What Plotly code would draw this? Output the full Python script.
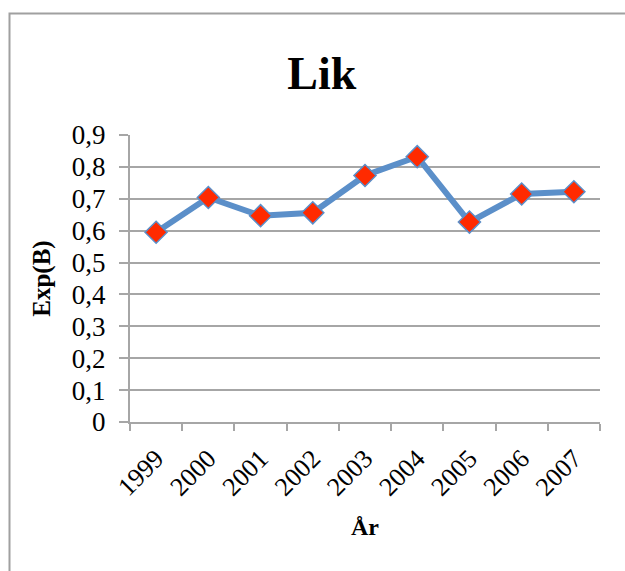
import plotly.graph_objects as go

# Exp(B) estimates per year
years = ["1999", "2000", "2001", "2002", "2003", "2004", "2005", "2006", "2007"]
exp_b = [0.595, 0.704, 0.647, 0.656, 0.773, 0.832, 0.627, 0.715, 0.722]

y_ticks = [0, 0.1, 0.2, 0.3, 0.4, 0.5, 0.6, 0.7, 0.8, 0.9]
y_tick_labels = ["0", "0,1", "0,2", "0,3", "0,4", "0,5", "0,6", "0,7", "0,8", "0,9"]

serif = "Liberation Serif, Times New Roman, serif"
grid_gray = "#a6a6a6"

fig = go.Figure()
fig.add_trace(go.Scatter(
    x=years, y=exp_b,
    mode="lines+markers",
    line=dict(color="#5b8fc9", width=6),
    marker=dict(symbol="diamond", size=17, color="#ff2a00",
                line=dict(color="#5b8fc9", width=1.5)),
    showlegend=False,
))

fig.update_layout(
    width=625, height=571,
    margin=dict(l=130, r=25, t=135, b=149),
    paper_bgcolor="white", plot_bgcolor="white",
    title=dict(text="<b>Lik</b>", x=0.515, xanchor="center", y=0.872, yanchor="middle",
               font=dict(family=serif, size=46, color="black")),
    font=dict(family=serif, color="black"),
    shapes=[dict(type="rect", xref="paper", yref="paper",
                 x0=-130 / 470 + 9.5 / 470, x1=1.2, y0=-0.7, y1=(571 - 13.5 - 149) / 287,
                 line=dict(color="#a0a0a0", width=2), layer="below")],
)

fig.update_xaxes(
    type="category", range=[-0.5, 8.5],
    showline=True, linecolor=grid_gray, linewidth=2,
    ticks="outside", tickson="boundaries", ticklen=7, tickcolor=grid_gray, tickwidth=2,
    showgrid=False, tickangle=-45, ticklabelstandoff=9,
    tickfont=dict(family=serif, size=26, color="black"),
    title=dict(text="<b>År</b>", font=dict(family=serif, size=24, color="black"), standoff=18),
)
fig.update_yaxes(
    range=[0, 0.9], tickvals=y_ticks, ticktext=y_tick_labels,
    showline=True, linecolor=grid_gray, linewidth=2,
    showgrid=True, gridcolor=grid_gray, gridwidth=2,
    ticks="outside", ticklen=9, tickcolor=grid_gray, tickwidth=2,
    zeroline=False, ticklabelstandoff=8,
    tickfont=dict(family=serif, size=27, color="black"),
    title=dict(text="<b>Exp(B)</b>", font=dict(family=serif, size=25, color="black"), standoff=14),
)

fig.write_html("out.html")
